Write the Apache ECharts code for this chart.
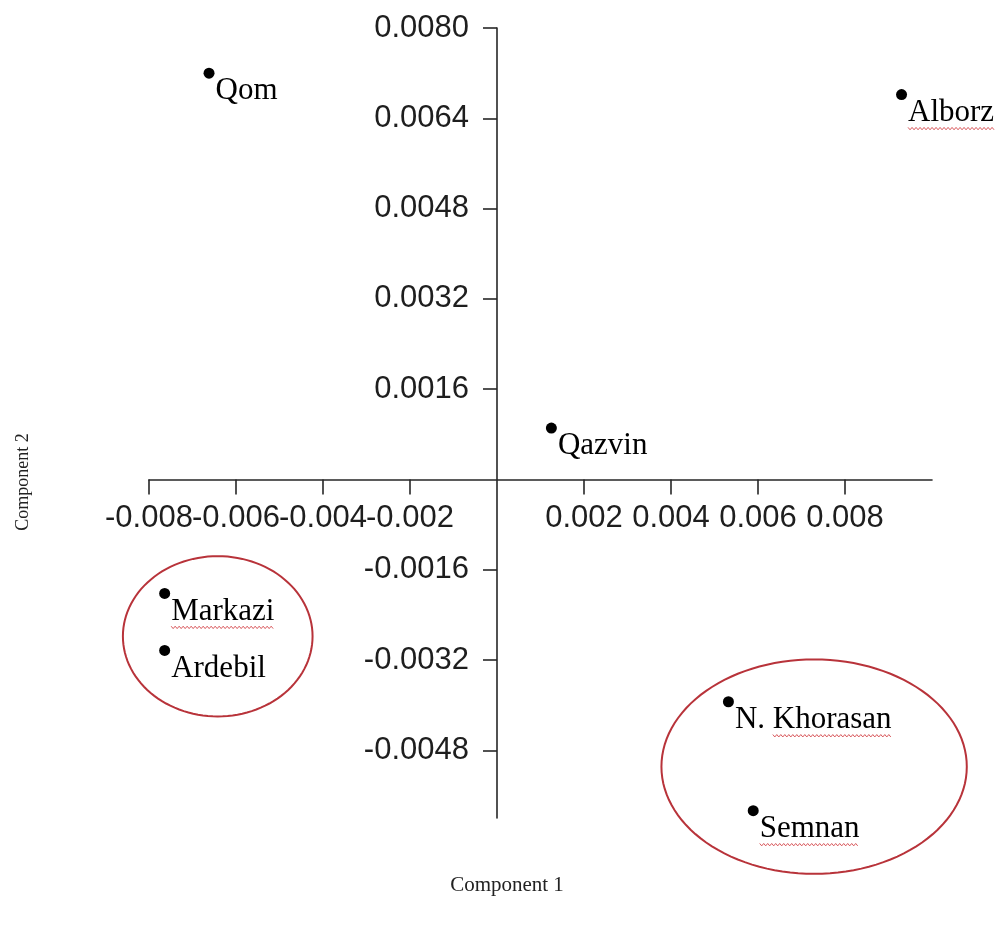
<!DOCTYPE html>
<html>
<head>
<meta charset="utf-8">
<script src="https://cdn.jsdelivr.net/npm/echarts@6/dist/echarts.min.js"></script>
<style>
  html, body { margin: 0; padding: 0; background: #fff; }
  #chart { width: 1000px; height: 926px; }
</style>
</head>
<body>
<div id="chart"></div>
<script>
// Provinces placed on the first two components
const provinces  = ['Qom', 'Alborz', 'Qazvin', 'Markazi', 'Ardebil', 'N. Khorasan', 'Semnan'];
const component1 = [-0.00662, 0.00930, 0.00125, -0.00764, -0.00764, 0.00532, 0.00589];
const component2 = [ 0.00720, 0.00682, 0.00091, -0.00202, -0.00303, -0.00394, -0.00587];

// Tick values shown on each axis (the origin itself is not labelled)
const xTicks = [-0.008, -0.006, -0.004, -0.002, 0.002, 0.004, 0.006, 0.008];
const yTicks = [0.0080, 0.0064, 0.0048, 0.0032, 0.0016, -0.0016, -0.0032, -0.0048];

// Cluster outlines: centre and half-axes, in component units
const clusterCx = [-0.00642, 0.00729];
const clusterCy = [-0.00278, -0.00509];
const clusterRx = [0.00218, 0.00351];
const clusterRy = [0.00142, 0.00190];

// Names carrying a wavy underline: [province, leading part left without underline]
const underlined = [['Markazi', ''], ['Alborz', ''], ['N. Khorasan', 'N. '], ['Semnan', '']];

// Axis extents
const X_MIN = -0.008, X_MAX = 0.010;
const Y_MIN = -0.006, Y_MAX = 0.008;

const GRID = { left: 149, top: 28, width: 783, height: 790 };

const LABEL_FONT_SIZE = 31;
const LABEL_FONT = LABEL_FONT_SIZE + 'px "Liberation Serif", "Times New Roman", serif';
const SYMBOL_SIZE = 11;
const LABEL_OFFSET = [1, 18];

const measureCtx = document.createElement('canvas').getContext('2d');
function textWidth(s) {
  measureCtx.font = LABEL_FONT;
  return measureCtx.measureText(s).width;
}

// Both axes cross at the origin: shift each one from the grid edge to zero
const xAxisShift = -GRID.height * (0 - Y_MIN) / (Y_MAX - Y_MIN);
const yAxisShift = -GRID.width * (0 - X_MIN) / (X_MAX - X_MIN);

// The horizontal labels are wide enough to touch their neighbours, so they are
// split over two coincident axes (alternate ticks) to keep every one of them drawn.
const xTicksEven = xTicks.filter((v, i) => i % 2 === 0);
const xTicksOdd  = xTicks.filter((v, i) => i % 2 === 1);

const chart = echarts.init(document.getElementById('chart'), null, { renderer: 'canvas' });

const axisColor = '#262626';
const tickFont = { fontFamily: '"Liberation Sans", Arial, sans-serif', fontSize: 31, color: '#1e1e1e' };

function makeXAxis(values, showLine) {
  return {
    type: 'value',
    position: 'bottom',
    offset: xAxisShift,
    min: X_MIN,
    max: X_MAX,
    interval: 0.002,
    axisLine: { show: showLine, onZero: false, lineStyle: { color: axisColor, width: 1.6 } },
    axisTick: { show: true, length: 15, customValues: values, lineStyle: { color: axisColor, width: 1.6 } },
    axisLabel: Object.assign({
      customValues: values, margin: 24, showMinLabel: true, showMaxLabel: true, hideOverlap: false,
      formatter: v => v.toFixed(3)
    }, tickFont),
    splitLine: { show: false }
  };
}

const option = {
  backgroundColor: '#ffffff',
  animation: false,
  grid: Object.assign({ outerBoundsMode: 'none' }, GRID),
  xAxis: [makeXAxis(xTicksEven, true), makeXAxis(xTicksOdd, false)],
  yAxis: {
    type: 'value',
    position: 'left',
    offset: yAxisShift,
    min: Y_MIN,
    max: Y_MAX,
    axisLine: { onZero: false, lineStyle: { color: axisColor, width: 1.6 } },
    axisTick: { show: true, length: 14, customValues: yTicks, lineStyle: { color: axisColor, width: 1.6 } },
    axisLabel: Object.assign({
      customValues: yTicks, margin: 28, showMinLabel: true, showMaxLabel: true, hideOverlap: false,
      formatter: v => v.toFixed(4)
    }, tickFont),
    splitLine: { show: false }
  },
  graphic: [
    {
      type: 'text',
      x: 23, y: 482,
      rotation: Math.PI / 2,
      style: {
        text: 'Component 2',
        font: '18px "Liberation Serif", "Times New Roman", serif',
        fill: '#222',
        align: 'center',
        verticalAlign: 'middle'
      }
    },
    {
      type: 'text',
      x: 507, y: 885,
      style: {
        text: 'Component 1',
        font: '21px "Liberation Serif", "Times New Roman", serif',
        fill: '#222',
        align: 'center',
        verticalAlign: 'middle'
      }
    }
  ],
  series: [
    {
      type: 'custom',
      name: 'clusters',
      clip: false,
      silent: true,
      data: clusterCx.map((cx, i) => [cx, clusterCy[i], clusterRx[i], clusterRy[i]]),
      renderItem(params, api) {
        const c = api.coord([api.value(0), api.value(1)]);
        const s = api.size([api.value(2), api.value(3)]);
        const pts = [];
        for (let k = 0; k < 120; k++) {
          const t = (k / 120) * Math.PI * 2;
          pts.push([c[0] + s[0] * Math.cos(t), c[1] + s[1] * Math.sin(t)]);
        }
        return {
          type: 'polygon',
          shape: { points: pts },
          style: { fill: 'none', stroke: '#b8333a', lineWidth: 2 }
        };
      }
    },
    {
      type: 'custom',
      name: 'underline',
      clip: false,
      silent: true,
      data: underlined.map(u => {
        const i = provinces.indexOf(u[0]);
        return [component1[i], component2[i], i];
      }),
      renderItem(params, api) {
        const p = api.coord([api.value(0), api.value(1)]);
        const entry = underlined[params.dataIndex];
        const left = p[0] + SYMBOL_SIZE / 2 + LABEL_OFFSET[0];
        const x0 = left + textWidth(entry[1]);
        const x1 = left + textWidth(entry[0]);
        const y = p[1] + LABEL_OFFSET[1] + 16;
        const pts = [];
        let up = true;
        for (let x = x0; x <= x1; x += 2) {
          pts.push([x, y + (up ? -1.2 : 1.2)]);
          up = !up;
        }
        return {
          type: 'polyline',
          shape: { points: pts },
          style: { fill: 'none', stroke: '#d9585c', lineWidth: 1 }
        };
      }
    },
    {
      type: 'scatter',
      name: 'provinces',
      clip: false,
      symbol: 'circle',
      symbolSize: SYMBOL_SIZE,
      itemStyle: { color: '#000', opacity: 1 },
      data: provinces.map((n, i) => ({ name: n, value: [component1[i], component2[i]] })),
      label: {
        show: true,
        position: 'right',
        distance: 0,
        offset: LABEL_OFFSET,
        formatter: '{b}',
        fontFamily: '"Liberation Serif", "Times New Roman", serif',
        fontSize: LABEL_FONT_SIZE,
        color: '#000'
      }
    }
  ]
};

chart.setOption(option);
</script>
</body>
</html>
